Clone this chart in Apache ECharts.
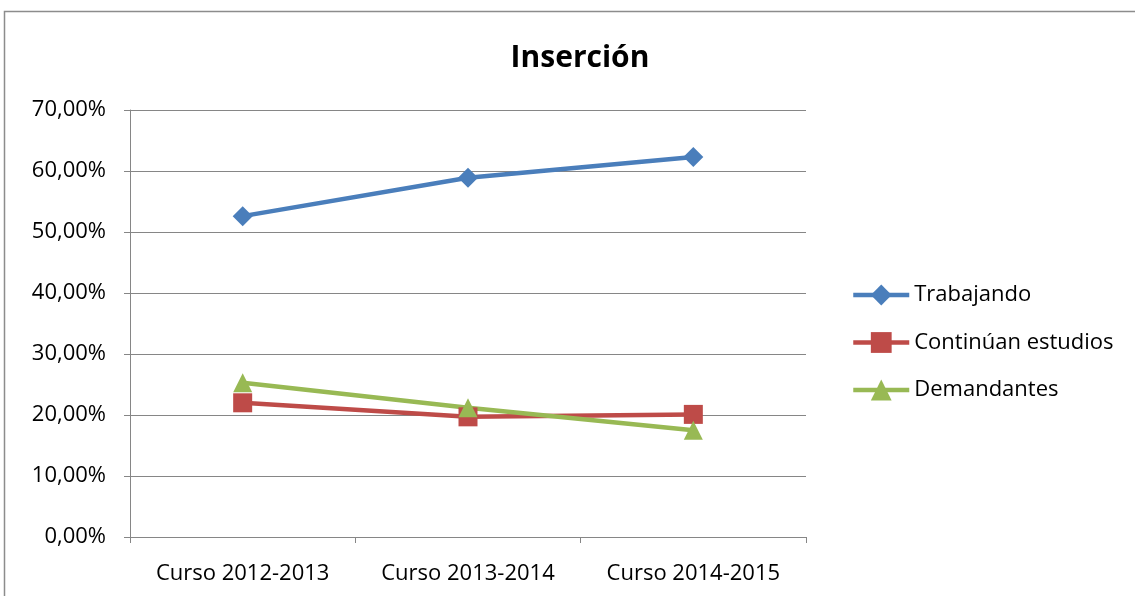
<!DOCTYPE html>
<html>
<head>
<meta charset="utf-8">
<script src="https://cdn.jsdelivr.net/npm/echarts@6/dist/echarts.min.js"></script>
<style>
  html, body { margin: 0; padding: 0; background: #fff; }
  #chart { width: 1135px; height: 596px; }
</style>
</head>
<body>
<div id="chart"></div>
<script>
// Course years on the x axis
const categories = ['Curso 2012-2013', 'Curso 2013-2014', 'Curso 2014-2015'];
// Percentages per group
const trabajando = [52.6, 58.9, 62.3];
const continuan = [22.0, 19.7, 20.1];
const demandantes = [25.3, 21.2, 17.5];
const seriesNames = ['Trabajando', 'Continúan estudios', 'Demandantes'];
const titleText = 'Inserción';

const FONT = '"Open Sans", "Liberation Sans", sans-serif';
const gridColor = '#868686';

const fmtPct = v => v.toFixed(2).replace('.', ',') + '%';

const chart = echarts.init(document.getElementById('chart'), null, { renderer: 'canvas' });

function lineSeries(name, data, color, symbol, size) {
  return {
    name: name,
    type: 'line',
    data: data,
    symbol: symbol,
    symbolSize: size,
    showAllSymbol: true,
    lineStyle: { color: color, width: 4.5 },
    itemStyle: { color: color },
    emphasis: { disabled: true },
    animation: false
  };
}

chart.setOption({
  animation: false,
  backgroundColor: '#fff',
  title: {
    text: titleText,
    left: 575,
    textAlign: 'center',
    top: 38,
    textStyle: { fontFamily: FONT, fontSize: 30, fontWeight: 'bold', color: '#000' }
  },
  graphic: [{
    type: 'rect',
    shape: { x: 4.5, y: 11.5, width: 1400, height: 800 },
    style: { fill: null, stroke: '#8c8c8c', lineWidth: 1.5 },
    silent: true,
    z: -10
  }],
  grid: { left: 130, right: 329, top: 110, bottom: 59, containLabel: false },
  legend: {
    orient: 'vertical',
    left: 846,
    top: 279,
    itemGap: 25.5,
    itemWidth: 56,
    itemHeight: 26,
    data: seriesNames,
    lineStyle: { width: 4.5 },
    textStyle: { fontFamily: FONT, fontSize: 22, color: '#000' }
  },
  xAxis: {
    type: 'category',
    data: categories,
    boundaryGap: true,
    axisLine: { show: true, lineStyle: { color: gridColor, width: 1 } },
    axisTick: { show: true, length: 6, interval: 0, alignWithLabel: false, lineStyle: { color: gridColor } },
    axisLabel: { fontFamily: FONT, fontSize: 22, color: '#000', margin: 26, interval: 0, hideOverlap: false },
    splitLine: { show: false }
  },
  yAxis: {
    type: 'value',
    min: 0,
    max: 70,
    interval: 10,
    axisLine: { show: true, lineStyle: { color: gridColor, width: 1 } },
    axisTick: { show: true, length: 6, lineStyle: { color: gridColor } },
    axisLabel: { fontFamily: FONT, fontSize: 22, color: '#000', margin: 24, formatter: fmtPct },
    splitLine: { show: true, lineStyle: { color: gridColor, width: 1 } }
  },
  series: [
    lineSeries(seriesNames[0], trabajando, '#4a7ebb', 'diamond', 20),
    lineSeries(seriesNames[1], continuan, '#be4b48', 'rect', 19),
    lineSeries(seriesNames[2], demandantes, '#98b954', 'triangle', 19)
  ]
});
</script>
</body>
</html>
